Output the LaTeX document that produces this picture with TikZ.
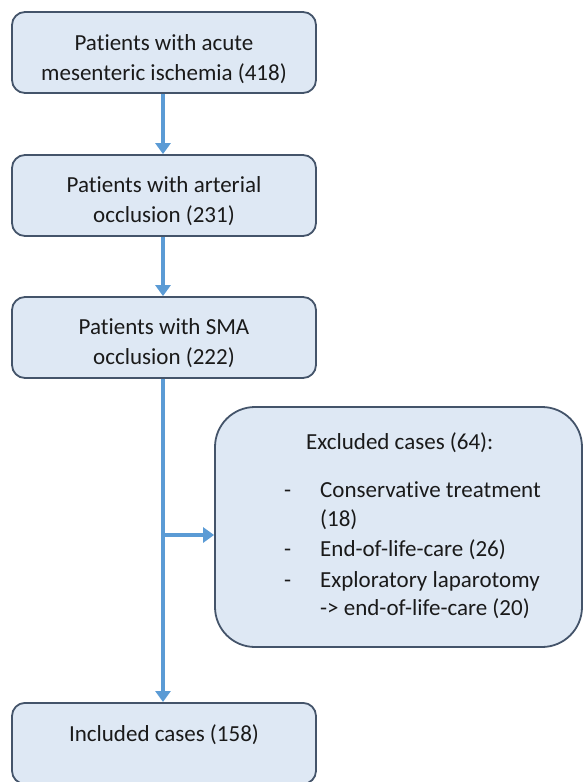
\documentclass[tikz,border=0pt]{standalone}
\usepackage{fontspec}
\setmainfont{Carlito}[Ligatures=NoCommon]
\usetikzlibrary{arrows.meta}
\definecolor{boxfill}{HTML}{DEE8F4}
\definecolor{boxline}{HTML}{44546A}
\definecolor{arrowblue}{HTML}{5B9BD5}
\definecolor{txt}{HTML}{1A1A1A}
\begin{document}
\begin{tikzpicture}[x=1pt,y=-1pt,
  box/.style={draw=boxline, line width=1.8pt, fill=boxfill, rounded corners=13pt,
    minimum width=304pt, minimum height=81pt, align=center, text=txt,
    font=\fontsize{23}{30}\selectfont, inner sep=0pt},
  bigbox/.style={draw=boxline, line width=1.8pt, fill=boxfill, rounded corners=40pt,
    minimum width=367pt, minimum height=240pt, inner sep=0pt},
  txtnode/.style={text=txt, font=\fontsize{23}{30}\selectfont, inner sep=0pt, anchor=base west},
  flow/.style={draw=arrowblue, line width=4pt, -{Triangle[width=15pt,length=11pt]}}
]
\useasboundingbox (0,0) rectangle (584,782);
\node[box] (b1) at (164,52.5) {};
\node[txtnode, anchor=base] (b1a) at (164,50) {Patients with acute};
\node[txtnode, anchor=base] (b1b) at (164,80) {mesenteric ischemia (418)};
\node[box] (b2) at (164,195.5) {};
\node[txtnode, anchor=base] (b2a) at (164,192) {Patients with arterial};
\node[txtnode, anchor=base] (b2b) at (164,222) {occlusion (231)};
\node[box] (b3) at (164,337.5) {};
\node[txtnode, anchor=base] (b3a) at (164,334) {Patients with SMA};
\node[txtnode, anchor=base] (b3b) at (164,364) {occlusion (222)};
\node[box, anchor=north] (b4) at (164,702) {};
\node[txtnode, anchor=base] (b4t) at (164,741) {Included cases (158)};
\node[bigbox] (exc) at (398.5,527) {};
\node[txtnode] (t0) at (306,449) {Excluded cases (64):};
\node[txtnode] (d1) at (284,497) {-};
\node[txtnode] (t1) at (320,497) {Conservative treatment};
\node[txtnode] (t1b) at (320,526) {(18)};
\node[txtnode] (d2) at (284,556) {-};
\node[txtnode] (t2) at (320,556) {End-of-life-care (26)};
\node[txtnode] (d3) at (284,587) {-};
\node[txtnode] (t3) at (320,587) {Exploratory laparotomy};
\node[txtnode] (t3b) at (320,615) {-> end-of-life-care (20)};
\draw[flow] (b1.south -| 163,0) -- (b2.north -| 163,0);
\draw[flow] (b2.south -| 163,0) -- (b3.north -| 163,0);
\draw[flow] (b3.south -| 163,0) -- (b4.north -| 163,0);
\coordinate (br) at (163,535);
\draw[flow] (br) -- (br -| exc.west);
\end{tikzpicture}
\end{document}
